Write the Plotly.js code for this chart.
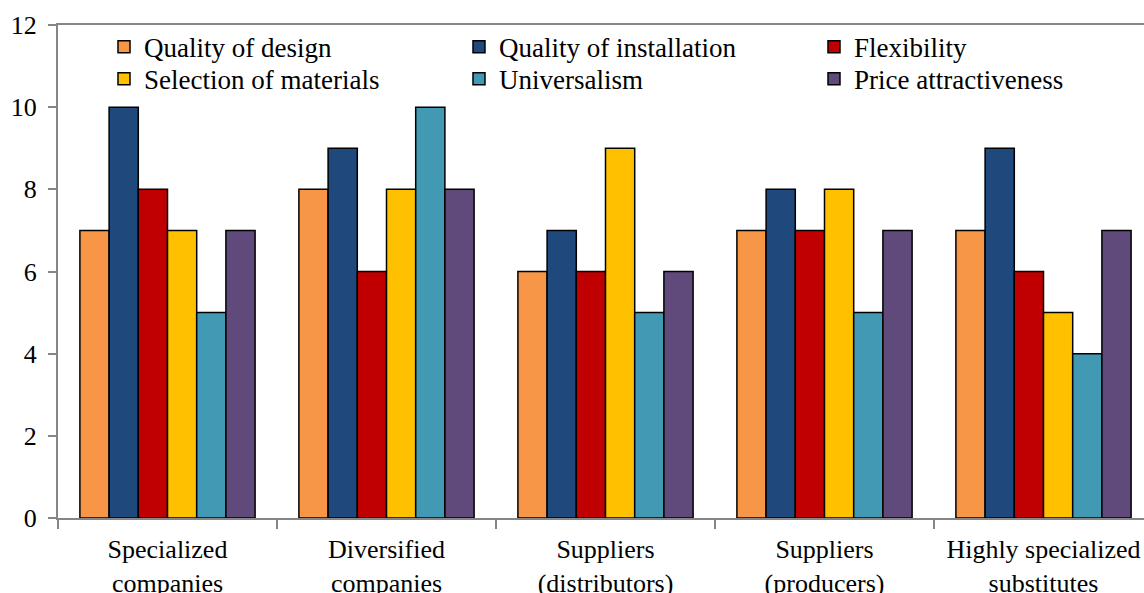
<!DOCTYPE html>
<html><head><meta charset="utf-8">
<script src="https://cdn.plot.ly/plotly-3.0.1.min.js"></script>
<style>html,body{margin:0;padding:0;overflow:hidden;background:#fff}#chart{width:1200px;height:593px}</style>
</head><body><div id="chart"></div>
<script>
const categories = ["Specialized<br>companies","Diversified<br>companies","Suppliers<br>(distributors)","Suppliers<br>(producers)","Highly specialized<br>substitutes"];
const seriesNames = ["Quality of design","Quality of installation","Flexibility","Selection of materials","Universalism","Price attractiveness"];
const qualityOfDesign = [7,8,6,7,7];
const qualityOfInstallation = [10,9,7,8,9];
const flexibility = [8,6,6,7,6];
const selectionOfMaterials = [7,8,9,8,5];
const universalism = [5,10,5,5,4];
const priceAttractiveness = [7,8,6,7,7];
const colors = ["#F79646","#1F497D","#C00000","#FFC000","#4299B3","#604A7B"];
const values = [qualityOfDesign,qualityOfInstallation,flexibility,selectionOfMaterials,universalism,priceAttractiveness];
// legend row for each series (two rows of three)
const legendIds = ["legend","legend","legend","legend2","legend2","legend2"];
const traces = values.map((v,i)=>({type:"bar",name:seriesNames[i],x:categories,y:v,legend:legendIds[i],
  marker:{color:colors[i],line:{color:"#000",width:1.5}}}));
const FONT = "Liberation Serif";
function leg(y){
  return {orientation:"h",x:0.042,y:y,xanchor:"left",yanchor:"middle",itemwidth:30,
    entrywidth:310,entrywidthmode:"pixels",tracegroupgap:0,
    font:{family:FONT,size:27,color:"#000"},bgcolor:"rgba(0,0,0,0)",borderwidth:0};
}
const layout = {
  width:1200,height:593,
  margin:{l:58,r:47,t:25,b:75},
  paper_bgcolor:"#fff",plot_bgcolor:"#fff",
  font:{family:FONT,size:26,color:"#000"},
  barmode:"group",bargap:0.2,bargroupgap:0,
  showlegend:true,
  legend:leg(0.955),
  legend2:leg(0.89),
  xaxis:{type:"category",showline:true,linecolor:"#868686",linewidth:2,mirror:true,
    ticks:"outside",tickson:"boundaries",ticklen:9,tickcolor:"#868686",tickwidth:2,
    tickfont:{family:FONT,size:26,color:"#000"},showgrid:false,ticklabelstandoff:7},
  yaxis:{range:[0,12],dtick:2,showline:true,linecolor:"#868686",linewidth:2,
    ticks:"outside",ticklen:8,tickcolor:"#868686",tickwidth:2,showgrid:false,zeroline:false,
    tickfont:{family:FONT,size:26,color:"#000"},ticklabelstandoff:6}
};
Plotly.newPlot("chart",traces,layout,{displayModeBar:false,staticPlot:true});
</script></body></html>
